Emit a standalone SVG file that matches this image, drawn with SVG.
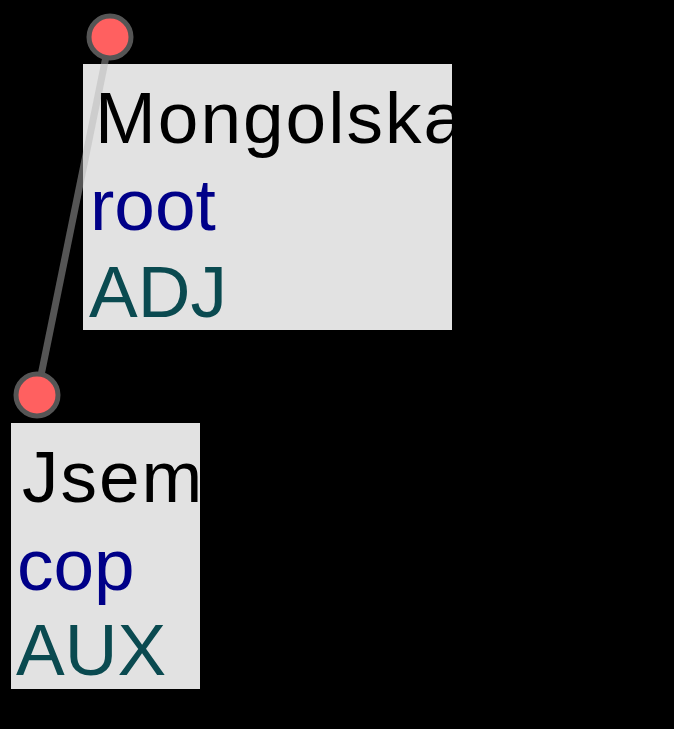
<svg xmlns="http://www.w3.org/2000/svg" width="674" height="729" viewBox="0 0 674 729">
<style>
.box{fill:#e2e2e2}
.t{font-family:"Liberation Sans",Arial,sans-serif;font-size:73px}
.w{fill:#000;letter-spacing:2px}
.d{fill:#000088}
.p{fill:#0a4a50}
.dot{fill:#ff6060;stroke:#555;stroke-width:5}
.edge{stroke:#555;stroke-width:7;fill:none}
</style>
<defs>
<clipPath id="c1"><rect x="83" y="64" width="369" height="266"/></clipPath>
<clipPath id="c2"><rect x="11" y="423" width="189" height="266"/></clipPath>
<mask id="m" maskUnits="userSpaceOnUse" x="0" y="0" width="674" height="729">
<rect width="674" height="729" fill="#fff"/>
<rect x="83" y="64" width="369" height="266" fill="#262626"/>
<rect x="11" y="423" width="189" height="266" fill="#262626"/>
</mask>
</defs>
<rect width="674" height="729" fill="#000"/>
<g id="node-mongolska">
<rect class="box" x="83" y="64" width="369" height="266"/>
<g clip-path="url(#c1)" class="t">
<text class="w" x="95" y="143">Mongolska</text>
<text class="d" x="90" y="230">root</text>
<text class="p" x="89" y="317">ADJ</text>
</g>
</g>
<g id="node-jsem">
<rect class="box" x="11" y="423" width="189" height="266"/>
<g clip-path="url(#c2)" class="t">
<text class="w" x="22" y="502">Jsem</text>
<text class="d" x="17" y="590">cop</text>
<text class="p" x="16" y="675">AUX</text>
</g>
</g>
<g id="connectors">
<line class="edge" x1="110" y1="37" x2="37" y2="395" mask="url(#m)"/>
<circle class="dot" cx="110" cy="37" r="21"/>
<circle class="dot" cx="37" cy="395" r="21"/>
</g>
</svg>
